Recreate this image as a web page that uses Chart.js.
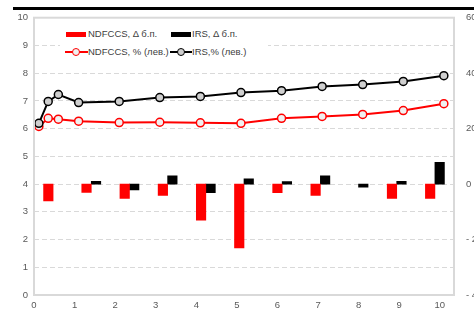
<!DOCTYPE html>
<html>
<head>
<meta charset="utf-8">
<script src="https://cdn.jsdelivr.net/npm/chart.js@4.4.1/dist/chart.umd.min.js"></script>
<style>
  html, body { margin: 0; padding: 0; background: #fff; overflow: hidden; width: 474px; height: 313px; }
  #wrap { position: relative; width: 490px; height: 313px; }
  #rule { position: absolute; left: 13px; top: 7px; width: 480px; height: 3px; background: #000; }
  #legend { position: absolute; left: 60px; top: 23px; width: 208px; height: 37px; background: #fff;
    font: 9.5px 'Liberation Sans', Arial, sans-serif; color: #404040; }
  #legend .sw { position: absolute; }
  #legend .txt { position: absolute; line-height: 11px; white-space: nowrap; }
  #legend .dot { position: absolute; width: 6px; height: 6px; border-radius: 50%; border: 1.5px solid; }
</style>
</head>
<body>
<div id="wrap">
  <canvas id="myChart" width="490" height="313"></canvas>
  <div id="rule"></div>
  <div id="legend">
    <div class="sw" style="left:6px;top:9px;width:20px;height:5px;background:#ff0000"></div>
    <div class="txt" style="left:28px;top:5px">NDFCCS, Δ б.п.</div>
    <div class="sw" style="left:111px;top:9px;width:20px;height:5px;background:#000"></div>
    <div class="txt" style="left:132px;top:5px">IRS, Δ б.п.</div>

    <div class="sw" style="left:5px;top:28px;width:23px;height:2px;background:#ff0000"></div>
    <div class="dot" style="left:11.5px;top:24.5px;border-color:#ff0000;background:#f0f0f0"></div>
    <div class="txt" style="left:28px;top:23px">NDFCCS, % (лев.)</div>
    <div class="sw" style="left:110px;top:28px;width:22px;height:2px;background:#000"></div>
    <div class="dot" style="left:116.5px;top:24.5px;border-color:#000;background:#cfcfcf"></div>
    <div class="txt" style="left:132px;top:23px">IRS,% (лев.)</div>
  </div>
</div>
<script>
// tenor (years) of each point on the curves
const tenors = [0.12, 0.35, 0.6, 1.1, 2.1, 3.1, 4.1, 5.1, 6.1, 7.1, 8.1, 9.1, 10.1];
const ndfccsRate = [6.08, 6.37, 6.34, 6.27, 6.22, 6.23, 6.21, 6.19, 6.37, 6.44, 6.51, 6.65, 6.9];
const irsRate = [6.19, 6.98, 7.23, 6.94, 6.98, 7.12, 7.16, 7.3, 7.37, 7.52, 7.59, 7.7, 7.91];

// changes in bp, one bar pair per category (null = no bar)
const barCats = ['0', '1', '2', '3', '4', '5', '6', '7', '8', '9', '10'];
const ndfccsDelta = [-6.1, -3.0, -5.2, -4.1, -13.0, -23.0, -3.1, -4.1, null, -5.2, -5.2];
const irsDelta = [null, 1.0, -2.1, 3.0, -3.1, 1.9, 0.9, 3.0, -1.1, 1.0, 7.8];

const xTicks = [0, 1, 2, 3, 4, 5, 6, 7, 8, 9, 10];

const tickFont = { family: "'Liberation Sans', Arial, sans-serif", size: 9.5 };
const tickColor = '#595959';
const frameColor = '#d9d9d9';

const toPoints = (xs, ys) => xs.map((x, i) => ({ x, y: ys[i] }));

const framePlugin = {
  id: 'frame',
  afterDraw(chart) {
    const { ctx, chartArea: a } = chart;
    ctx.save();
    ctx.strokeStyle = frameColor;
    ctx.lineWidth = 2;
    ctx.strokeRect(a.left, a.top, a.right - a.left, a.bottom - a.top);
    ctx.restore();
  },
};

let myChart = new Chart(document.getElementById('myChart'), {
  type: 'line',
  data: {
    datasets: [
      {
        type: 'line',
        label: 'NDFCCS, % (лев.)',
        data: toPoints(tenors, ndfccsRate),
        xAxisID: 'x',
        yAxisID: 'y',
        borderColor: '#ff0000',
        borderWidth: 2,
        pointRadius: 4,
        pointBorderWidth: 1.5,
        pointBackgroundColor: '#f0f0f0',
        pointBorderColor: '#ff0000',
        tension: 0,
        order: 1,
      },
      {
        type: 'line',
        label: 'IRS,% (лев.)',
        data: toPoints(tenors, irsRate),
        xAxisID: 'x',
        yAxisID: 'y',
        borderColor: '#000000',
        borderWidth: 2,
        pointRadius: 4,
        pointBorderWidth: 1.5,
        pointBackgroundColor: '#cfcfcf',
        pointBorderColor: '#000000',
        tension: 0,
        order: 0,
      },
      {
        type: 'bar',
        label: 'NDFCCS, Δ б.п.',
        data: ndfccsDelta,
        xAxisID: 'x2',
        yAxisID: 'y2',
        backgroundColor: '#ff0000',
        barThickness: 9.5,
        order: 2,
      },
      {
        type: 'bar',
        label: 'IRS, Δ б.п.',
        data: irsDelta,
        xAxisID: 'x2',
        yAxisID: 'y2',
        backgroundColor: '#000000',
        barThickness: 9.5,
        order: 3,
      },
    ],
  },
  options: {
    responsive: false,
    animation: false,
    devicePixelRatio: 1,
    layout: { padding: { top: 17, left: 0, right: 0, bottom: 0 } },
    plugins: { legend: { display: false }, tooltip: { enabled: false } },
    scales: {
      x: {
        type: 'linear',
        position: 'bottom',
        offset: false,
        min: 0,
        max: 10.35,
        afterBuildTicks: (scale) => { scale.ticks = xTicks.map((v) => ({ value: v })); },
        afterFit: (scale) => { scale.height = 18; },
        grid: { display: false, drawTicks: false },
        border: { display: false },
        ticks: { font: tickFont, color: tickColor, padding: 5, maxRotation: 0, autoSkip: false },
      },
      x2: {
        type: 'category',
        labels: barCats,
        display: false,
        offset: true,
      },
      y: {
        position: 'left',
        min: 0,
        max: 10,
        afterFit: (scale) => { scale.width = 34; },
        grid: { color: frameColor, lineWidth: 1, drawTicks: false },
        border: { display: false, dash: [5, 3] },
        ticks: { stepSize: 1, font: tickFont, color: tickColor, padding: 6 },
      },
      y2: {
        position: 'right',
        min: -40,
        max: 60,
        afterFit: (scale) => { scale.width = 36; },
        grid: { display: false, drawTicks: false },
        border: { display: false },
        ticks: {
          stepSize: 20,
          font: tickFont,
          color: tickColor,
          padding: 12,
          callback: (v) => (v < 0 ? '- ' + Math.abs(v) : String(v)),
        },
      },
    },
  },
  plugins: [framePlugin],
});
</script>
</body>
</html>
